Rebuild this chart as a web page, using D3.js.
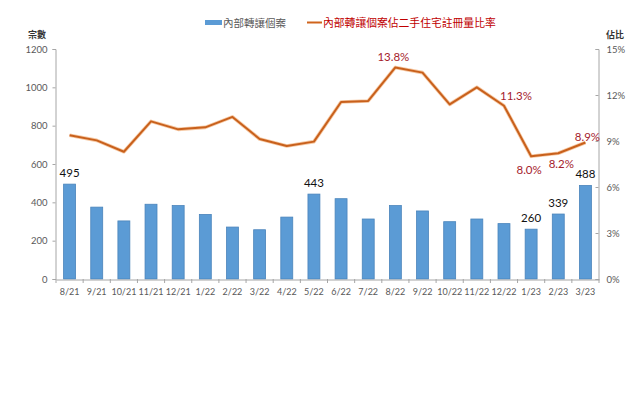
<!DOCTYPE html>
<html><head><meta charset="utf-8">
<script src="https://cdn.jsdelivr.net/npm/d3@7/dist/d3.min.js"></script>
<style>
html,body{margin:0;padding:0;background:#fff;}
svg{display:block;}
text{font-family:Lato,"Noto Sans CJK TC",sans-serif;}
.cjk{font-family:"Noto Sans CJK TC","Noto Sans CJK SC",sans-serif;}
</style></head>
<body>
<svg id="c" width="644" height="419"></svg>
<script>
const categories = ["8/21","9/21","10/21","11/21","12/21","1/22","2/22","3/22","4/22","5/22","6/22","7/22","8/22","9/22","10/22","11/22","12/22","1/23","2/23","3/23"];
const cases = [495,375,303,390,383,337,271,257,323,443,419,313,383,355,299,313,289,260,339,488];
const ratio = [9.37,9.04,8.30,10.28,9.76,9.89,10.57,9.13,8.67,8.96,11.54,11.61,13.8,13.46,11.39,12.5,11.3,8.0,8.2,8.9];
const leftTicks = [0,200,400,600,800,1000,1200];
const rightTicks = [0,3,6,9,12,15];
const barLabelIdx = [0,9,17,18,19];
const ratioLabelIdx = [12,16,17,18,19];
const ratioLabelPlace = ["above","aboveRight","below","below","aboveRight"];
const seriesNames = ["內部轉讓個案","內部轉讓個案佔二手住宅註冊量比率"];
const axisTitles = ["宗數","佔比"];

const svg = d3.select("#c");
const L = 56, R = 599, T = 49, B = 279;
const x = d3.scaleBand().domain(categories).range([L, R]).paddingInner(0.56).paddingOuter(0.28);
const yL = d3.scaleLinear().domain([0,1200]).range([B, T]);
const yR = d3.scaleLinear().domain([0,15]).range([B, T]);
const gray = "#a6a6a6", tgray = "#595959";

// Left axis
const gl = svg.append("g").attr("transform",`translate(${L-0.5},0)`)
  .call(d3.axisLeft(yL).tickValues(leftTicks).tickSize(3).tickPadding(5).tickFormat(d3.format("d")));
// Right axis
const gr = svg.append("g").attr("transform",`translate(${R-0.5},0)`)
  .call(d3.axisRight(yR).tickValues(rightTicks).tickSize(-3).tickPadding(8).tickFormat(d=>d+"%"));
[gl,gr].forEach(g=>{
  g.select(".domain").attr("stroke",gray);
  g.selectAll(".tick line").attr("stroke",gray);
  g.selectAll(".tick text").attr("fill",tgray).style("font-size","9.5px");
});

// Bars
svg.append("g").selectAll("rect").data(cases).join("rect")
  .attr("x",(d,i)=>x(categories[i]))
  .attr("y",d=>yL(d))
  .attr("width",x.bandwidth())
  .attr("height",d=>B-yL(d))
  .attr("fill","#5b9bd5").attr("stroke","#4a84bb").attr("stroke-width",0.8);

// Bottom axis
const gb = svg.append("g").attr("transform",`translate(0,${B+0.5})`)
  .call(d3.axisBottom(x).tickSize(0).tickPadding(9));
gb.select(".domain").attr("stroke",gray);
gb.selectAll(".tick text").attr("fill",tgray).style("font-size","9px");
svg.append("g").selectAll("line").data(d3.range(categories.length+1)).join("line")
  .attr("x1",i=>L + i*x.step()).attr("x2",i=>L + i*x.step())
  .attr("y1",B).attr("y2",B+4).attr("stroke",gray);

// Line
const cx = i => x(categories[i]) + x.bandwidth()/2;
const line = d3.line().x((d,i)=>cx(i)).y(d=>yR(d));
svg.append("path").datum(ratio).attr("d",line)
  .attr("fill","none").attr("stroke","#f6c9a4").attr("stroke-width",3.6).attr("stroke-linejoin","round");
svg.append("path").datum(ratio).attr("d",line)
  .attr("fill","none").attr("stroke","#c8601c").attr("stroke-width",2).attr("stroke-linejoin","round");

// Bar labels
svg.append("g").selectAll("text").data(barLabelIdx).join("text")
  .attr("x",i=>cx(i)).attr("y",i=>yL(cases[i])-7.5)
  .attr("text-anchor","middle").attr("fill","#111").style("font-size","11.5px")
  .text(i=>cases[i]);

// Ratio labels
svg.append("g").selectAll("text").data(ratioLabelIdx).join("text")
  .attr("x",(i,k)=> cx(i) + (ratioLabelPlace[k]==="aboveRight" ? (i===19?2:12) : (i===18?3:-2)))
  .attr("y",(i,k)=> yR(ratio[i]) + (ratioLabelPlace[k]==="below" ? (i===17?18:15) : (i===19?-2:-6)))
  .attr("text-anchor","middle").attr("fill","#a5222c").style("font-size","11.5px")
  .text(i=>ratio[i].toFixed(1)+"%");

// Axis titles
svg.append("text").attr("class","cjk").attr("x",46).attr("y",38).attr("text-anchor","end")
  .attr("fill","#333").style("font-size","9px").style("font-weight","bold").text(axisTitles[0]);
svg.append("text").attr("class","cjk").attr("x",606).attr("y",38)
  .attr("fill","#333").style("font-size","9px").style("font-weight","bold").text(axisTitles[1]);

// Legend
svg.append("rect").attr("x",205).attr("y",20).attr("width",17).attr("height",5).attr("fill","#5b9bd5");
svg.append("text").attr("class","cjk").attr("x",223).attr("y",26.5).attr("fill",tgray)
  .style("font-size","10.5px").text(seriesNames[0]);
svg.append("line").attr("x1",307).attr("x2",322).attr("y1",22.5).attr("y2",22.5)
  .attr("stroke","#d0641c").attr("stroke-width",2);
svg.append("text").attr("class","cjk").attr("x",323).attr("y",26.5).attr("fill","#c00000")
  .style("font-size","10.8px").text(seriesNames[1]);
</script>
</body></html>
